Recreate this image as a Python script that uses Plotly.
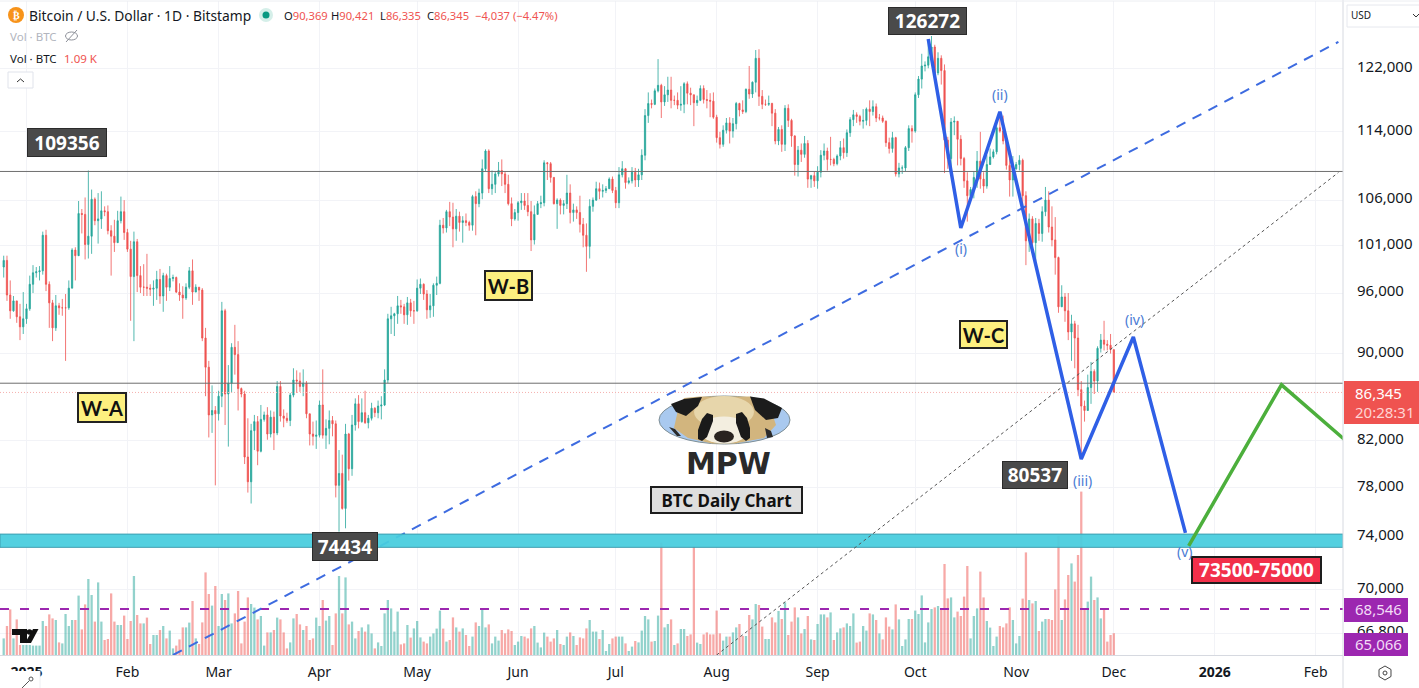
import math
import pandas as pd
import plotly.graph_objects as go

# Daily candles, thousands of USD (25 Dec 2024 .. 1 Dec 2025)
opens_k = [
 98.7,99.4,95.8,94.2,95.2,93.6,92.6,
 93.4,94.4,96.9,98.1,98.2,98.3,102.1,96.9,95.0,92.5,94.7,94.5,94.5,94.5,96.5,100.5,99.9,104.5,104.4,101.1,102.0,106.1,103.7,103.9,104.8,104.7,102.6,102.0,101.3,103.7,104.7,
 102.4,100.6,97.7,101.4,97.8,96.6,96.6,96.5,96.4,96.5,97.4,95.7,97.8,96.6,97.5,97.6,96.1,95.8,95.5,96.6,98.3,96.1,96.6,96.3,91.5,88.7,84.3,84.7,
 84.4,86.0,94.2,86.2,87.2,90.6,89.9,86.7,86.2,80.6,78.5,82.9,83.7,81.1,83.9,84.3,82.6,84.1,82.7,86.9,84.2,84.0,83.8,86.1,87.5,87.4,86.9,87.2,84.4,82.6,82.4,
 82.5,85.2,82.5,83.1,83.8,83.5,78.2,79.2,76.3,82.6,79.6,83.4,85.3,83.7,84.5,83.6,84.0,84.9,84.5,85.1,85.2,87.5,93.4,93.7,93.9,94.7,94.6,93.8,95.0,94.2,
 94.2,96.5,96.9,95.9,94.3,94.7,96.8,97.0,103.2,102.9,104.7,104.1,102.8,104.2,103.5,103.7,103.5,103.2,106.4,105.6,106.8,109.6,111.7,107.3,107.8,109.0,109.4,109.0,107.8,105.6,103.9,
 104.6,105.7,105.9,105.4,104.7,101.6,104.4,105.6,105.7,110.3,110.2,108.6,105.6,106.0,105.4,105.6,106.8,104.6,104.9,104.6,103.3,102.1,100.9,105.3,106.0,107.3,107.0,107.1,107.3,108.4,
 107.1,105.7,108.9,109.6,108.0,108.2,109.2,108.3,108.9,111.2,116.0,117.5,117.4,119.1,119.8,117.7,118.6,119.2,117.9,117.9,117.3,117.4,120.0,118.8,118.6,117.6,117.9,119.4,118.0,117.9,117.8,
 115.8,113.3,112.5,114.2,115.1,114.1,115.0,117.5,116.7,116.5,119.3,118.7,120.2,123.3,118.4,117.4,117.4,117.5,116.3,112.9,114.3,112.5,116.9,115.4,113.5,110.1,111.8,111.3,112.6,108.4,108.8,
 108.2,109.2,111.2,111.7,110.7,110.7,110.2,111.1,112.1,111.5,113.9,115.5,116.1,115.9,115.3,115.4,116.8,116.5,117.1,115.7,115.7,115.3,112.7,112.0,113.3,109.0,109.7,109.7,112.1,114.4,
 114.1,118.6,120.6,122.3,122.4,123.5,124.8,121.4,123.3,121.7,113.0,110.8,115.2,115.3,113.1,110.8,108.2,106.5,107.2,108.6,110.5,108.4,107.6,110.1,111.0,111.6,114.5,114.1,112.9,110.0,108.3,
 109.6,110.1,110.6,106.5,101.5,103.9,101.3,103.4,102.3,104.7,106.0,103.0,101.6,99.7,94.6,95.6,94.2,92.1,92.9,91.5,86.6,85.1,84.7,86.8,88.3,87.4,90.5,91.3,90.9,90.8,
 90.369]
highs_k = [
 99.9,99.9,97.3,95.7,95.2,94.9,96.1,
 94.9,97.8,98.9,98.7,98.8,102.5,102.7,97.2,95.3,95.8,95.0,95.4,95.9,97.3,100.7,100.8,105.9,105.0,106.3,109.4,107.2,106.3,106.8,107.0,105.3,105.4,103.2,103.8,104.8,106.4,106.0,
 102.8,101.5,102.5,101.7,98.8,99.0,100.1,96.9,97.3,98.3,98.5,98.1,98.0,98.8,97.9,97.7,97.0,96.7,97.0,98.7,99.5,96.9,96.6,96.5,92.5,89.3,87.0,85.1,
 86.5,95.1,94.4,88.9,91.0,92.8,91.2,86.8,86.5,84.0,83.5,84.3,84.2,85.2,84.6,85.0,84.7,84.6,87.4,87.4,84.8,84.5,86.3,88.6,88.4,88.2,88.5,87.4,84.4,83.7,83.8,
 85.6,88.5,83.9,84.7,84.2,83.8,81.2,80.8,83.5,82.7,84.3,85.8,86.1,85.8,86.5,84.3,85.4,85.0,85.6,86.0,88.5,93.9,94.6,94.0,95.7,95.3,94.9,95.6,95.4,95.2,
 97.4,97.5,97.0,96.3,95.9,97.0,97.7,103.8,104.0,104.9,105.8,105.7,105.0,104.7,104.2,104.5,103.7,106.6,107.0,107.3,110.7,111.9,111.9,109.4,109.3,110.4,110.7,109.3,108.9,106.3,105.0,
 105.9,106.8,106.8,106.8,105.9,105.4,105.9,106.5,110.6,110.4,110.4,108.6,106.2,106.2,106.0,108.9,107.8,105.6,105.3,106.5,104.0,103.4,106.1,106.3,108.1,108.0,107.8,107.6,108.6,108.7,
 107.5,109.8,110.5,109.7,108.6,109.8,109.7,109.6,111.9,116.8,118.9,118.0,119.4,123.2,120.0,119.7,120.9,120.9,118.5,118.9,119.7,120.2,120.3,119.5,118.6,118.5,119.8,119.8,119.2,118.8,118.9,
 116.1,114.0,114.8,115.7,115.8,115.7,117.7,117.6,117.9,119.4,122.3,120.3,124.4,124.5,119.2,118.0,118.5,117.6,116.8,114.6,114.8,117.3,117.4,115.6,113.6,112.3,112.6,113.5,113.0,108.9,109.3,
 109.9,111.8,112.6,112.1,113.4,110.9,111.3,112.9,113.2,114.3,115.8,116.7,116.4,116.1,116.8,117.0,117.9,117.9,117.5,116.2,116.0,115.4,113.3,114.0,113.4,110.3,110.0,112.3,114.8,114.8,
 118.9,121.0,123.9,122.9,125.8,126.272,125.1,124.1,123.7,122.5,113.4,115.7,115.9,115.0,113.6,111.0,109.2,107.5,109.3,111.7,114.0,109.2,111.2,112.0,111.9,115.4,116.2,116.0,113.6,111.5,111.1,
 110.4,111.2,110.8,107.0,104.5,104.2,104.0,103.9,105.3,107.5,107.0,105.3,104.1,99.8,96.8,96.0,96.0,93.8,93.2,92.8,87.4,85.6,88.0,89.2,88.5,90.7,91.9,93.2,91.3,91.9,
 90.421]
lows_k = [
 97.6,95.2,93.4,94.1,93.0,91.3,91.9,
 92.9,94.2,96.0,97.6,97.3,97.9,96.2,92.5,91.2,92.2,93.8,93.7,89.3,94.3,96.5,97.3,100.0,102.3,99.5,99.6,100.1,103.2,101.2,102.8,104.2,102.2,97.8,100.3,101.3,103.4,101.6,
 100.3,93.2,91.2,96.1,96.0,95.7,95.7,95.7,94.7,95.3,94.9,94.1,95.2,96.2,97.2,96.0,95.2,93.4,95.3,96.4,94.8,96.1,95.2,91.2,86.0,82.3,82.7,78.2,
 83.8,85.0,83.4,81.5,86.3,88.0,84.7,85.9,80.0,77.6,76.7,81.2,79.9,81.0,83.7,82.1,82.3,81.2,82.5,83.7,83.2,83.6,83.3,85.9,86.3,86.4,86.0,84.0,81.6,81.6,81.3,
 82.3,82.2,81.3,81.7,82.4,77.2,74.434,76.2,74.7,78.6,79.0,82.9,83.1,83.6,83.5,83.1,83.8,84.1,84.0,83.9,85.1,87.2,91.9,91.7,92.9,93.9,92.9,92.8,93.6,92.9,
 94.1,95.9,95.3,93.4,93.5,93.6,95.8,96.9,102.3,102.4,103.1,100.8,101.5,102.5,101.3,103.1,102.6,102.6,102.1,105.2,106.1,109.3,106.8,106.6,106.8,108.7,107.6,106.8,105.4,103.1,103.7,
 103.7,104.9,104.9,104.2,100.4,101.1,104.4,105.1,105.3,108.3,108.0,105.5,102.8,104.4,104.4,105.0,103.4,103.6,103.9,102.4,100.8,98.2,99.6,104.7,105.9,106.1,106.3,106.8,107.3,106.8,
 105.1,105.1,108.6,107.3,107.8,107.9,107.5,107.5,108.3,110.6,115.1,116.9,117.3,118.9,115.7,117.2,117.7,116.9,117.3,116.8,116.6,116.3,117.4,117.3,114.7,117.2,117.8,117.5,116.9,115.8,115.6,
 112.7,112.0,112.2,113.8,112.6,113.3,114.3,115.9,116.2,116.3,118.1,118.2,118.9,117.2,116.8,117.2,117.2,114.7,112.5,112.4,111.6,111.7,114.6,112.2,108.8,108.7,110.4,110.9,107.4,107.4,107.5,
 107.3,108.6,110.6,109.4,110.0,109.9,110.0,110.6,110.8,111.0,113.4,114.7,115.1,114.8,114.4,114.8,114.7,116.0,115.2,115.4,115.1,112.2,111.4,111.5,108.7,108.6,109.0,109.3,111.7,112.7,
 113.9,118.2,119.4,121.6,122.0,123.5,120.6,121.1,119.9,109.1,109.6,109.7,113.6,110.0,110.0,107.4,103.6,106.3,106.2,107.4,107.3,106.8,107.3,110.3,110.8,111.3,113.9,112.5,109.5,106.4,106.4,
 109.5,109.4,105.3,98.9,100.3,100.7,99.3,101.5,101.4,104.2,102.4,100.9,97.9,94.0,94.6,93.1,91.3,89.3,88.6,86.0,80.537,83.7,84.9,85.3,86.2,86.4,90.1,90.3,90.3,90.0,
 86.335]
closes_k = [
 99.4,95.8,94.2,95.2,93.6,92.6,93.4,
 94.4,96.9,98.1,98.2,98.3,102.1,96.9,95.0,92.5,94.7,94.5,94.5,94.5,96.5,100.5,99.9,104.5,104.4,101.1,102.0,106.1,103.7,103.9,104.8,104.7,102.6,102.0,101.3,103.7,104.7,102.4,
 100.6,97.7,101.4,97.8,96.6,96.6,96.5,96.4,96.5,97.4,95.7,97.8,96.6,97.5,97.6,96.1,95.8,95.5,96.6,98.3,96.1,96.6,96.3,91.5,88.7,84.3,84.7,84.4,
 86.0,94.2,86.2,87.2,90.6,89.9,86.7,86.2,80.6,78.5,82.9,83.7,81.1,83.9,84.3,82.6,84.1,82.7,86.9,84.2,84.0,83.8,86.1,87.5,87.4,86.9,87.2,84.4,82.6,82.4,82.5,
 85.2,82.5,83.1,83.8,83.5,78.2,79.2,76.3,82.6,79.6,83.4,85.3,83.7,84.5,83.6,84.0,84.9,84.5,85.1,85.2,87.5,93.4,93.7,93.9,94.7,94.6,93.8,95.0,94.2,94.2,
 96.5,96.9,95.9,94.3,94.7,96.8,97.0,103.2,102.9,104.7,104.1,102.8,104.2,103.5,103.7,103.5,103.2,106.4,105.6,106.8,109.6,111.7,107.3,107.8,109.0,109.4,109.0,107.8,105.6,103.9,104.6,
 105.7,105.9,105.4,104.7,101.6,104.4,105.6,105.7,110.3,110.2,108.6,105.6,106.0,105.4,105.6,106.8,104.6,104.9,104.6,103.3,102.1,100.9,105.3,106.0,107.3,107.0,107.1,107.3,108.4,107.1,
 105.7,108.9,109.6,108.0,108.2,109.2,108.3,108.9,111.2,116.0,117.5,117.4,119.1,119.8,117.7,118.6,119.2,117.9,117.9,117.3,117.4,120.0,118.8,118.6,117.6,117.9,119.4,118.0,117.9,117.8,115.8,
 113.3,112.5,114.2,115.1,114.1,115.0,117.5,116.7,116.5,119.3,118.7,120.2,123.3,118.4,117.4,117.4,117.5,116.3,112.9,114.3,112.5,116.9,115.4,113.5,110.1,111.8,111.3,112.6,108.4,108.8,108.2,
 109.2,111.2,111.7,110.7,110.7,110.2,111.1,112.1,111.5,113.9,115.5,116.1,115.9,115.3,115.4,116.8,116.5,117.1,115.7,115.7,115.3,112.7,112.0,113.3,109.0,109.7,109.7,112.1,114.4,114.1,
 118.6,120.6,122.3,122.4,123.5,124.8,121.4,123.3,121.7,113.0,110.8,115.2,115.3,113.1,110.8,108.2,106.5,107.2,108.6,110.5,108.4,107.6,110.1,111.0,111.6,114.5,114.1,112.9,110.0,108.3,109.6,
 110.1,110.6,106.5,101.5,103.9,101.3,103.4,102.3,104.7,106.0,103.0,101.6,99.7,94.6,95.6,94.2,92.1,92.9,91.5,86.6,85.1,84.7,86.8,88.3,87.4,90.5,91.3,90.9,90.8,90.4,
 86.345]
volumes_k = [
 .83,1.45,2.28,.83,1.78,.50,.50,
 .50,.50,.47,.47,.47,1.70,1.45,2.03,1.83,1.75,.63,.58,2.05,1.45,1.75,1.75,2.97,1.28,2.53,3.80,3.00,1.67,3.63,1.67,.75,.80,3.08,1.67,1.50,1.50,
 1.97,.80,1.70,3.95,2.00,1.58,1.58,1.87,.55,1.00,1.00,1.25,1.45,.83,1.22,.33,.47,.78,1.38,1.38,1.62,2.70,.83,.55,1.63,4.13,3.05,2.47,3.45,
 1.45,3.05,2.75,3.08,1.58,2.08,3.20,.58,1.67,2.88,2.55,2.37,1.78,1.95,.47,1.13,1.13,1.25,1.87,1.78,1.13,.33,.63,1.83,2.05,1.53,1.25,1.45,.75,.83,1.87,
 1.45,2.75,1.72,1.95,.50,2.08,3.95,2.08,3.88,1.53,1.67,.83,1.20,1.38,1.17,1.53,1.08,.33,.63,.45,2.08,2.75,2.33,1.17,2.17,.53,.58,1.50,.87,1.33,
 1.70,.88,.67,.58,.92,1.08,1.32,2.22,1.32,.67,.75,1.88,1.38,1.17,1.33,1.00,.45,.92,1.63,1.45,2.33,1.38,1.53,.58,.92,.72,1.25,1.08,1.28,1.20,.50,
 .67,.95,.92,.83,1.33,1.45,.62,.38,1.12,.92,.67,.83,1.25,.55,.50,.92,1.13,.95,.50,.88,.83,1.33,1.75,1.17,1.17,.80,1.25,.20,.55,.83,
 .92,.92,.92,.58,.20,.42,.70,.63,1.22,1.95,1.78,.67,.70,1.97,5.62,1.38,1.55,1.78,.50,.58,1.30,1.30,.95,1.03,5.42,.62,.55,1.03,1.13,1.03,1.03,
 2.22,1.08,.72,.92,.92,1.13,1.38,1.55,.95,.95,2.00,1.78,2.55,2.50,1.42,.80,.80,1.88,1.63,2.20,1.80,2.63,1.00,1.67,2.38,1.88,1.08,1.30,1.95,.78,.75,
 1.55,2.03,2.03,1.88,2.13,.75,1.13,1.33,1.38,1.58,1.45,2.08,.62,.67,1.45,1.22,2.08,2.03,1.75,1.08,.78,1.88,1.42,1.28,2.53,1.78,.45,.78,1.80,1.80,
 2.22,2.05,2.98,.63,1.63,2.30,2.38,2.45,2.25,4.55,2.83,2.88,1.88,2.17,1.95,2.92,4.45,.83,1.95,2.33,4.17,2.88,1.70,1.37,.45,.92,1.45,1.38,1.58,2.38,1.75,
 .58,.95,2.82,5.13,2.75,2.58,2.70,1.20,1.67,1.80,1.80,1.75,3.28,5.95,1.75,2.78,4.00,4.58,3.67,5.00,8.17,2.25,2.67,3.92,2.75,2.88,1.83,2.25,.67,1.00,
 1.09]

first_day = "2024-12-25"
tick_values = [122000,114000,106000,101000,96000,90000,82000,78000,74000,70000,66800]
tick_labels = ["122,000","114,000","106,000","101,000","96,000","90,000","82,000","78,000","74,000","70,000","66,800"]
month_ticks = ["2025-01-01","2025-02-01","2025-03-01","2025-04-01","2025-05-01","2025-06-01","2025-07-01","2025-08-01","2025-09-01","2025-10-01","2025-11-01","2025-12-01","2026-01-01","2026-02-01"]
month_labels = ["<b>2025</b>","Feb","Mar","Apr","May","Jun","Jul","Aug","Sep","Oct","Nov","Dec","<b>2026</b>","Feb"]

x_start, x_end = "2024-12-23 20:38", "2026-02-09 09:36"
level_high = 109290
level_mid = 87200
last_price = 86345
ma_price = 68546
band_top, band_bottom = 74240, 73200

trend_dates = ["2025-02-15","2026-02-08"]
trend_prices = [65260,125480]
dotted_dates = ["2025-08-01","2026-02-08"]
dotted_prices = [65260,109170]
wave_dates = ["2025-10-05","2025-10-15","2025-10-27","2025-11-21","2025-12-07","2025-12-23"]
wave_prices = [125870,102900,116480,80430,91610,74340]
rebound_dates = ["2025-12-24","2026-01-21 12:00","2026-02-10"]
rebound_prices = [73310,87050,82080]

n = len(closes_k)
assert n == len(opens_k) == len(highs_k) == len(lows_k) == len(volumes_k), (len(opens_k), len(highs_k), len(lows_k), len(closes_k), len(volumes_k))
dates = pd.date_range(first_day, periods=n, freq="D")
UP, DOWN = "#26a69a", "#ef5350"
vol_colors = ["rgba(38,166,154,.5)" if c >= o else "rgba(239,83,80,.5)" for o, c in zip(opens_k, closes_k)]

PW, PH = 1343, 654
FONT = "Noto Sans"
def fx(x): return x / PW
def fy(y): return (655 - y) / PH

fig = go.Figure()
fig.add_bar(x=dates, y=volumes_k, yaxis="y", width=0.7 * 86400000, marker=dict(color=vol_colors, line_width=0), hoverinfo="skip")
fig.add_candlestick(x=dates, open=[v * 1000 for v in opens_k], high=[v * 1000 for v in highs_k],
                    low=[v * 1000 for v in lows_k], close=[v * 1000 for v in closes_k], yaxis="y2",
                    increasing=dict(line=dict(color=UP, width=0.8), fillcolor=UP),
                    decreasing=dict(line=dict(color=DOWN, width=0.8), fillcolor=DOWN), whiskerwidth=0, hoverinfo="skip")

def line_trace(xs, ys, color, width, dash="solid"):
    fig.add_scatter(x=xs, y=ys, yaxis="y2", mode="lines", line=dict(color=color, width=width, dash=dash), hoverinfo="skip")

line_trace([x_start, x_end], [level_high, level_high], "#6e6e6e", 1)
line_trace([x_start, x_end], [level_mid, level_mid], "#6e6e6e", 1)
line_trace([x_start, x_end], [last_price, last_price], "#f5b0ae", 1, "1px,2px")
line_trace([x_start, x_end], [ma_price, ma_price], "#9c27b0", 2, "9px,11px")
line_trace(trend_dates, trend_prices, "#3d6be0", 2, "10px,8px")
fig.add_scatter(x=[x_start, x_end, x_end, x_start, x_start], y=[band_top, band_top, band_bottom, band_bottom, band_top],
                yaxis="y2", mode="lines", fill="toself", fillcolor="rgba(72,205,222,.94)", line=dict(color="#3f9eb0", width=1), hoverinfo="skip")
line_trace(dotted_dates, dotted_prices, "#555555", 1, "3px,3px")
line_trace(wave_dates, wave_prices, "#2f5fe6", 3.5)
line_trace(rebound_dates, rebound_prices, "#4caf3c", 3.5)

shapes, notes = [], []
def ell(cx, cy, rx, ry, fill, lc=None, lw=0):
    shapes.append(dict(type="circle", xref="paper", yref="paper", x0=fx(cx - rx), x1=fx(cx + rx), y0=fy(cy - ry), y1=fy(cy + ry),
                       fillcolor=fill, line=dict(color=lc or fill, width=lw), layer="above"))
def rect(x0, y0, x1, y1, fill, lc=None, lw=0):
    shapes.append(dict(type="rect", xref="paper", yref="paper", x0=fx(x0), x1=fx(x1), y0=fy(y0), y1=fy(y1),
                       fillcolor=fill, line=dict(color=lc or fill, width=lw), layer="above"))
def seg(x0, y0, x1, y1, color, w=1):
    shapes.append(dict(type="line", xref="paper", yref="paper", x0=fx(x0), x1=fx(x1), y0=fy(y0), y1=fy(y1),
                       line=dict(color=color, width=w), layer="above"))
def poly(pts, fill, lc=None, lw=0, close=True):
    path = "M" + " L".join(f"{fx(a):.5f},{fy(b):.5f}" for a, b in pts) + (" Z" if close else "")
    shapes.append(dict(type="path", xref="paper", yref="paper", path=path, fillcolor=fill if close else "rgba(0,0,0,0)",
                       line=dict(color=lc or fill, width=lw), layer="above"))
def text(x, y, s, color="#131722", size=13.5, anchor="left", family=FONT):
    notes.append(dict(xref="paper", yref="paper", x=fx(x), y=fy(y), text=s, showarrow=False, xanchor=anchor, yanchor="middle",
                      font=dict(color=color, size=size, family=family), borderpad=0))
def box(x0, y0, x1, y1, s, bg, fg, size, bc="#2b2b2b", bw=1, family=FONT):
    notes.append(dict(xref="paper", yref="paper", x=fx((x0 + x1) / 2), y=fy((y0 + y1) / 2), text=s, showarrow=False,
                      xanchor="center", yanchor="middle", width=x1 - x0 - 2 * bw, height=y1 - y0 - 2 * bw, align="center", valign="middle",
                      bgcolor=bg, bordercolor=bc, borderwidth=bw, borderpad=0, font=dict(color=fg, size=size, family=family)))

# panda badge
ell(724.5, 420, 65.5, 24, "#a9c9ef", "#7f8f95", 1)
poly([(684,398),(700,396.5),(750,396.5),(768,401),(776,425),(764,438),(735,443.5),(712,443.5),(688,438),(674,428),(678,410)], "#d2b57e")
ell(724, 412, 30, 16, "#e7d6ab")
ell(724, 430, 25, 13.5, "#f3eee0")
poly([(671,404),(684,399),(702,397),(698,406),(686,416),(676,412)], "#1c1c1c")
poly([(750,396.5),(764,398.5),(782,408),(778,418),(766,420),(755,410)], "#1c1c1c")
poly([(707,413),(713,415),(713,421),(707,437),(702,441),(698,439),(698,430),(702,419)], "#1a1a1a")
poly([(736,414),(742,412),(747,418),(750,428),(750,438),(746,441),(741,437),(736,423)], "#1a1a1a")
ell(724, 436.5, 10, 6, "#29231f")
poly([(669,427),(675,429),(681,436),(677,436)], "#2b2b2b")
poly([(765,428),(771,431),(773,437),(767,438)], "#2b2b2b")

# header furniture
ell(16, 15, 8, 8, "#f7931a")
ell(266, 15, 7, 7, "#d5efe9")
ell(266, 15, 3.5, 3.5, "#089981")
ell(71.5, 36, 6, 4, "rgba(0,0,0,0)", "#8d9099", 1)
seg(66, 42, 77, 30, "#8d9099", 1)
rect(8, 72, 33, 88, "#ffffff", "#e0e3eb", 1)
poly([(17,82),(20.5,79),(24,82)], "#333333", "#333333", 1, close=False)

# axes furniture
seg(1343, 0, 1343, 688, "#d6d9e0", 1)
seg(0, 655.5, 1343, 655.5, "#d6d9e0", 1)
seg(0, 1, 1419, 1, "#eceef2", 1)
rect(0, 671, 40, 688, "#ffffff")
seg(40, 671, 40, 688, "#eef0f3", 1)
seg(22, 688, 29, 681, "#555555", 1)
ell(31, 679, 2, 2, "#ffffff", "#555555", 1)
rect(1347, 5, 1425, 27, "#ffffff", "#e6e8ee", 1)
poly([(1413,14),(1416,17),(1419,14)], "#333333", "#333333", 1, close=False)
rect(1344, 381, 1419, 424, "#ef5350")
rect(1344, 598, 1408, 622, "#9c27b0")
rect(1344, 633, 1408, 656, "#9c27b0")
poly([(1385,666),(1391,669.5),(1391,676.5),(1385,680),(1379,676.5),(1379,669.5)], "#ffffff", "#444444", 1)
ell(1385, 673, 2, 2, "#ffffff", "#444444", 1)

# TradingView mark
poly([(12,629),(27,629),(27,643),(20,643),(20,635),(12,635)], "#111111")
ell(29.5, 632, 2.8, 2.8, "#111111")
poly([(33,629),(38.5,629),(31,643),(25,643)], "#111111")

# header text
text(28, 15, "Bitcoin / U.S. Dollar · 1D · Bitstamp", size=13.8)
for xp, letter, val in [(283, "O", "90,369"), (330, "H", "90,421"), (379, "L", "86,335"), (426, "C", "86,345")]:
    text(xp, 15, f"{letter}<span style='color:#ef5350'>{val}</span>", size=11.2)
text(474, 15, "−4,037 (−4.47%)", color="#ef5350", size=11.2)
text(9, 36, "Vol · BTC", color="#b2b5be", size=11.5)
text(9, 58, "Vol · BTC", size=11.5)
text(63, 58, "1.09 K", color="#ef5350", size=11.5)
text(16, 15, "<b>₿</b>", color="#ffffff", size=10, anchor="center", family="DejaVu Sans")
text(1350, 15.5, "USD", size=10)

# price-axis tags
text(1354, 393, "86,345", color="#ffffff", size=15)
text(1354, 412, "20:28:31", color="#ffd5d4", size=15)
text(1354, 609, "68,546", color="#f3dcf7", size=15)
text(1354, 644, "65,066", color="#f3dcf7", size=15)

# chart labels
DK = "#4a4a4a"
box(27, 128, 107, 157, "<b>109356</b>", DK, "#ffffff", 19)
box(888, 7, 967, 35, "<b>126272</b>", DK, "#ffffff", 19)
box(312, 532, 378, 561, "<b>74434</b>", DK, "#ffffff", 19)
box(1002, 461, 1068, 489, "<b>80537</b>", DK, "#ffffff", 19)
box(1191, 556, 1322, 584, "<b>73500-75000</b>", "#f2304a", "#ffffff", 19, bc="#1d1d1d", bw=2)
YEL = "#fdf07f"
box(77, 392, 127, 423, "<b>W-A</b>", YEL, "#111111", 20, bc="#222222", bw=2, family="Lato")
box(484, 270, 533, 301, "<b>W-B</b>", YEL, "#111111", 20, bc="#222222", bw=2, family="Lato")
box(959, 320, 1008, 349, "<b>W-C</b>", YEL, "#111111", 20, bc="#222222", bw=2, family="Lato")
box(650, 486, 803, 514, "<b>BTC Daily Chart</b>", "#dedede", "#111111", 17, bc="#1d1d1d", bw=2)
text(728.5, 464, "<b>MPW</b>", color="#2a2a2a", size=30, anchor="center", family="DejaVu Sans")
WAVE = "#4a7bd4"
for xp, yp, s in [(961, 248, "(i)"), (1000, 94, "(ii)"), (1082, 480, "(iii)"), (1134, 319, "(iv)"), (1185, 551, "(v)")]:
    text(xp, yp, s, color=WAVE, size=14, anchor="center")

fig.update_layout(
    width=1419, height=688, margin=dict(l=0, r=76, t=1, b=33), autosize=False,
    paper_bgcolor="#ffffff", plot_bgcolor="#ffffff", showlegend=False, hovermode=False, bargap=0.3, boxgap=0.45,
    font=dict(family=FONT, color="#131722"), shapes=shapes, annotations=notes,
    xaxis=dict(type="date", range=[x_start, x_end], tickmode="array", tickvals=month_ticks, ticktext=month_labels,
               tickfont=dict(size=14, family=FONT, color="#131722"), ticks="outside", ticklen=4, tickcolor="rgba(0,0,0,0)",
               showgrid=True, gridcolor="#f2f3f7", gridwidth=1, showline=False, zeroline=False, rangeslider=dict(visible=False)),
    yaxis=dict(range=[0, PH / 20], visible=False, fixedrange=True),
    yaxis2=dict(type="log", overlaying="y", side="right", range=[math.log10(65260), math.log10(131075)],
                tickmode="array", tickvals=tick_values, ticktext=tick_labels, tickfont=dict(size=15, family=FONT, color="#131722"),
                showgrid=True, gridcolor="#f2f3f7", gridwidth=1, zeroline=False, showline=False, ticks="outside", ticklen=10, tickcolor="rgba(0,0,0,0)",
                ticklabelshift=-2),
)
fig.write_html("out.html", config=dict(displayModeBar=False), post_script="document.body.style.margin='0';document.documentElement.style.overflow='hidden';")
